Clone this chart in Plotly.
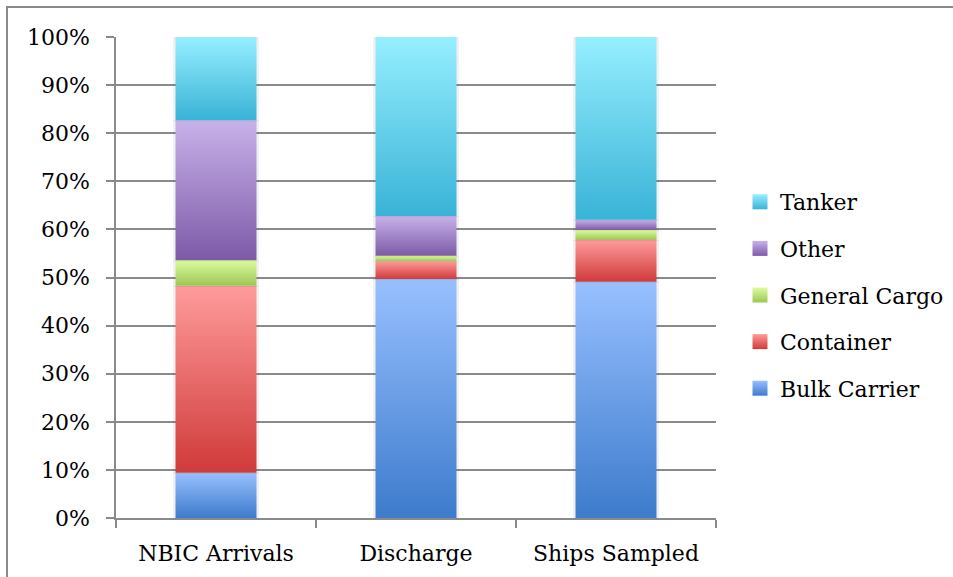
import plotly.graph_objects as go

# Share of vessel types (%) for each group
categories = ["NBIC Arrivals", "Discharge", "Ships Sampled"]
bulk_carrier = [9.4, 49.7, 49.1]
container = [38.9, 3.7, 8.7]
general_cargo = [5.3, 1.1, 2.1]
other = [29.1, 8.3, 2.1]
tanker = [17.3, 37.2, 38.0]

series = [
    ("Bulk Carrier", bulk_carrier, "#3d7bcc", "#98c0ff"),
    ("Container", container, "#d03a3a", "#ff9b9b"),
    ("General Cargo", general_cargo, "#9cc656", "#ddfc9e"),
    ("Other", other, "#7d5aa7", "#c8b2ea"),
    ("Tanker", tanker, "#39b3d6", "#96efff"),
]

BAR_W = 0.405
FONT = "DejaVu Serif"
FSIZE = 22
GRID = "#8a8a8a"

fig = go.Figure()

base = [0.0] * len(categories)
for rank, (name, vals, dark, light) in enumerate(series):
    for i, v in enumerate(vals):
        b, t = base[i], base[i] + v
        x0, x1 = i - BAR_W / 2, i + BAR_W / 2
        # soft shadow behind each segment
        fig.add_trace(go.Scatter(
            x=[x0 - 0.012, x1 + 0.012, x1 + 0.012, x0 - 0.012, x0 - 0.012],
            y=[b - 0.25, b - 0.25, t, t, b - 0.25],
            fill="toself", mode="lines", line=dict(width=0),
            fillcolor="rgba(0,0,0,0.06)", hoverinfo="skip", showlegend=False,
        ))
        fig.add_trace(go.Scatter(
            x=[x0, x1, x1, x0, x0],
            y=[b, b, t, t, b],
            fill="toself", mode="lines", line=dict(width=0),
            fillcolor=light,
            fillgradient=dict(type="vertical", start=b, stop=t,
                              colorscale=[[0, dark], [1, light]]),
            name=name, legendgroup=name, showlegend=False,
            hovertemplate=f"{name}: {v}%<extra>{categories[i]}</extra>",
        ))
        base[i] = t

# legend entries with gradient square swatches
for rank, (name, vals, dark, light) in enumerate(series):
    fig.add_trace(go.Scatter(
        x=[None], y=[None], mode="markers", name=name, legendgroup=name,
        legendrank=100 - rank,
        marker=dict(symbol="square", size=15, color=light,
                    gradient=dict(type="vertical", color=dark),
                    line=dict(width=0)),
    ))

# carrier trace so the category axis is drawn
fig.add_trace(go.Scatter(x=[None], y=[None], xaxis="x2", yaxis="y",
                         mode="markers", showlegend=False, hoverinfo="skip"))

# frame around the chart
fig.add_shape(type="rect", xref="paper", yref="paper",
              x0=(7 - 116) / 600, x1=1.5, y0=-0.2, y1=1 + (37 - 7) / 481,
              line=dict(color=GRID, width=2), fillcolor="rgba(0,0,0,0)", layer="below")

fig.update_layout(
    width=953, height=577,
    margin=dict(l=116, r=237, t=37, b=59, autoexpand=False),
    paper_bgcolor="white", plot_bgcolor="white",
    font=dict(family=FONT, size=FSIZE, color="black"),
    showlegend=True,
    legend=dict(x=(740 - 116) / 600, xanchor="left", y=(518 - 295) / 481, yanchor="middle",
                tracegroupgap=15, font=dict(family=FONT, size=FSIZE),
                bgcolor="rgba(0,0,0,0)"),
    xaxis=dict(range=[-0.5, 2.5], tickvals=[-0.5, 0.5, 1.5, 2.5], ticktext=["", "", "", ""],
               ticks="outside", ticklen=8, tickwidth=1.5, tickcolor=GRID,
               showline=True, linecolor=GRID, linewidth=1.5,
               showgrid=False, zeroline=False, fixedrange=True),
    xaxis2=dict(overlaying="x", anchor="y", side="bottom",
                range=[-0.5, 2.5], tickvals=[0, 1, 2], ticktext=categories,
                ticks="", ticklabelstandoff=20, showline=False, showgrid=False,
                zeroline=False, tickfont=dict(family=FONT, size=FSIZE)),
    yaxis=dict(range=[0, 100], dtick=10, ticksuffix="%",
               ticks="outside", ticklen=8, tickwidth=1.5, tickcolor=GRID,
               showline=True, linecolor=GRID, linewidth=1.5,
               showgrid=True, gridcolor=GRID, gridwidth=1.5,
               zeroline=False, ticklabelstandoff=12,
               tickfont=dict(family=FONT, size=FSIZE)),
)

fig.write_html("out.html")
